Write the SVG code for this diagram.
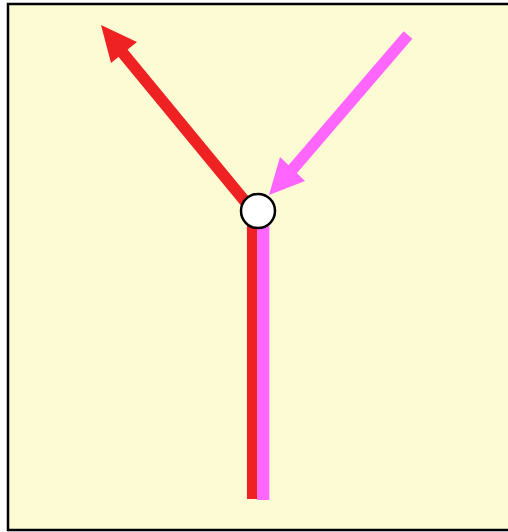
<svg xmlns="http://www.w3.org/2000/svg" width="508" height="532" viewBox="0 0 508 532">
<style>
.red{stroke:#ee2222;fill:none;stroke-width:10.5;stroke-linejoin:miter}
.redd{stroke:#ee2222;fill:none;stroke-width:11.5}
.pink{stroke:#ff66ff;fill:none;stroke-width:11.5}
.pinkv{stroke:#ff66ff;fill:none;stroke-width:12}
.redhead{fill:#ee2222}
.pinkhead{fill:#ff66ff}
</style>
<rect x="8" y="4" width="504" height="526" fill="#fdfbd4" stroke="#000" stroke-width="2.5"/>
<g id="connectors">
<path class="red" d="M252.2,499 L252.2,206"/>
<path class="redd" d="M252.2,210 L122,52"/>
<polygon class="redhead" points="101,25 137,42 111,63"/>
<path class="pinkv" d="M263.3,500 L263.3,211"/>
<path class="pink" d="M408,35 L292,170"/>
<polygon class="pinkhead" points="269,195 280,157 305,181"/>
</g>
<g id="junction">
<circle cx="258" cy="211" r="17" fill="#fff" stroke="#000" stroke-width="2.5"/>
</g>
</svg>
